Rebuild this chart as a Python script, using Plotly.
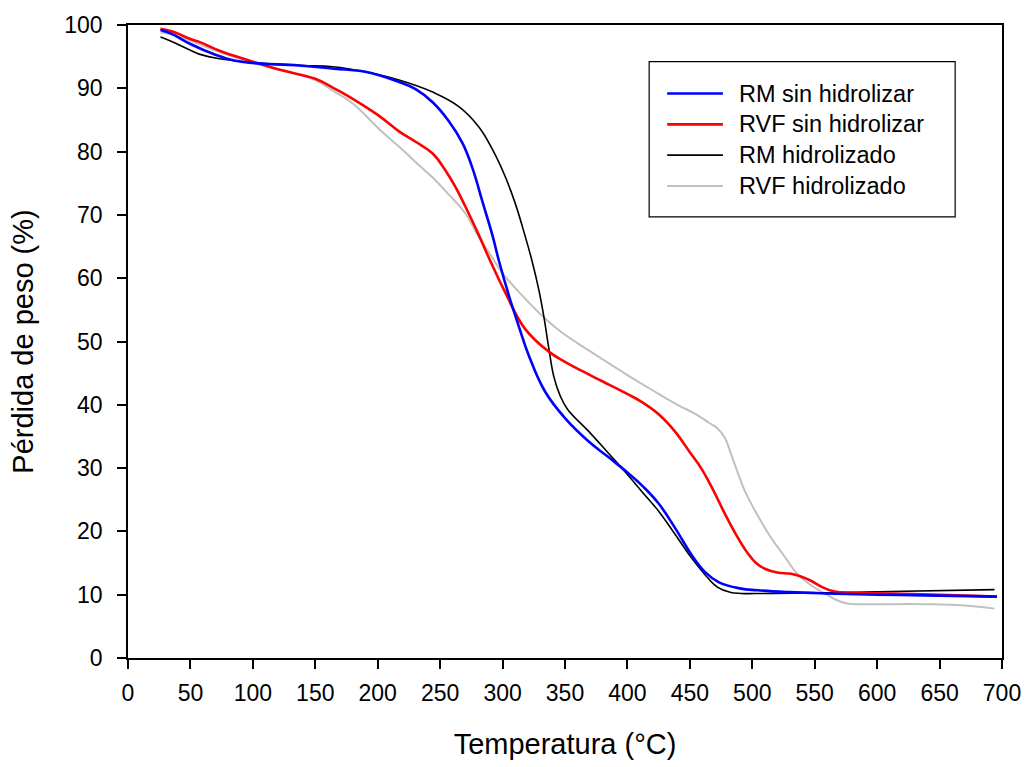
import plotly.graph_objects as go

# Thermogravimetric curves: temperature (°C) vs remaining weight (%)
rm_sin_T = [26, 35, 50, 70, 85, 100, 137, 165, 190, 217, 230, 244, 257, 268, 276, 284, 292, 297,
            305, 313, 321, 334, 350, 369, 385, 400, 413, 425, 438, 451, 462, 473, 490, 504, 530, 558,
            600, 638, 696]
rm_sin_w = [99.2, 98.6, 97.0, 95.3, 94.4, 94.0, 93.6, 93.1, 92.6, 91.0, 89.9, 87.8, 84.8, 81.3, 77.3,
            72.0, 66.7, 62.8, 57.3, 52.4, 47.8, 42.1, 37.9, 34.2, 31.7, 29.3, 27.0, 24.4, 20.6, 16.4,
            13.6, 12.0, 11.0, 10.7, 10.4, 10.2, 10.0, 9.9, 9.7]

rvf_sin_T = [26, 35, 50, 57.5, 75, 97, 124, 150, 165, 177, 200, 217, 230, 244, 254, 262, 270, 281,
             290, 302, 318, 337, 350, 369, 379, 401, 411, 425, 438, 450, 459, 468, 478, 487, 496.5,
             503, 510, 520, 531, 540, 547, 556, 566, 580, 611, 650, 696]
rvf_sin_w = [99.4, 99.0, 97.8, 97.3, 95.8, 94.4, 92.8, 91.5, 90.0, 88.7, 85.8, 83.2, 81.6, 79.7, 77.1,
             74.5, 71.4, 66.8, 62.8, 57.8, 52.0, 48.4, 46.8, 44.8, 43.8, 41.6, 40.5, 38.5, 35.8, 32.5,
             30.0, 26.8, 22.8, 19.5, 16.5, 15.0, 14.1, 13.5, 13.3, 12.8, 12.2, 11.2, 10.5, 10.3, 10.2,
             10.0, 9.7]

rm_hid_T = [26, 35, 50, 57, 70, 84, 111, 140, 164, 190, 217, 244, 265, 281, 292, 302, 310, 318,
            323.5, 329, 333, 337, 341, 346, 352, 369, 385, 400, 412, 425, 438, 451, 462, 472, 482,
            491, 510, 558, 611, 694]
rm_hid_w = [98.1, 97.4, 96.0, 95.4, 94.8, 94.4, 93.9, 93.6, 93.4, 92.6, 91.3, 89.4, 87.1, 83.9, 80.3,
            76.1, 71.9, 66.7, 62.8, 58.2, 54.0, 49.0, 44.5, 41.5, 39.3, 35.8, 32.3, 29.0, 26.2, 23.2,
            19.6, 15.9, 13.2, 11.2, 10.4, 10.2, 10.2, 10.3, 10.5, 10.8]

rvf_hid_T = [26, 35, 50, 75, 100, 125, 150, 165, 180, 203, 217, 230, 244, 257, 270, 281, 290, 300,
             316, 331, 347, 369, 380, 400, 420, 440, 455, 465, 472, 478, 483, 488, 494, 505, 515, 526,
             536, 547, 558, 567, 576, 590, 638, 670, 694]
rvf_hid_w = [98.8, 98.5, 97.5, 95.6, 94.0, 92.8, 91.3, 89.5, 87.6, 83.2, 80.8, 78.4, 75.9, 73.2, 70.3,
             66.5, 63.8, 60.8, 57.2, 54.2, 51.5, 48.6, 47.2, 44.7, 42.3, 40.0, 38.5, 37.2, 36.3, 34.8,
             32.2, 29.5, 26.4, 22.3, 19.0, 16.0, 13.3, 11.5, 10.2, 9.2, 8.6, 8.5, 8.5, 8.3, 7.8]

series = [
    ("RM sin hidrolizar", rm_sin_T, rm_sin_w, "#0000ff", 2.6),
    ("RVF sin hidrolizar", rvf_sin_T, rvf_sin_w, "#ff0000", 2.6),
    ("RM hidrolizado", rm_hid_T, rm_hid_w, "#000000", 1.6),
    ("RVF hidrolizado", rvf_hid_T, rvf_hid_w, "#c0c0c0", 2.0),
]

FONT = "Liberation Sans, Arial, sans-serif"

fig = go.Figure()
# Grey first so the coloured curves sit on top of it
for name, T, w, color, width in [series[3], series[2], series[1], series[0]]:
    fig.add_trace(go.Scatter(
        x=T, y=w, mode="lines", name=name, showlegend=False,
        line=dict(color=color, width=width, shape="spline", smoothing=1.2),
    ))

# Legend box drawn with shapes and text
shapes = [dict(type="rect", xref="paper", yref="paper", x0=0.5963, x1=0.9464, y0=0.697, y1=0.942,
               line=dict(color="black", width=1.2), fillcolor="white", layer="above")]
annotations = []
rows = [0.8917, 0.843, 0.7944, 0.7457]
for (name, T, w, color, width), yy in zip(series, rows):
    shapes.append(dict(type="line", xref="paper", yref="paper", x0=0.6169, x1=0.6807, y0=yy, y1=yy,
                       line=dict(color=color, width=width), layer="above"))
    annotations.append(dict(xref="paper", yref="paper", x=0.6967, y=yy, text=name, showarrow=False,
                            xanchor="left", yanchor="middle",
                            font=dict(family=FONT, size=23.5, color="black")))

axis_common = dict(ticks="outside", ticklen=9, tickwidth=1.5, tickcolor="black", showline=True,
                   linecolor="black", linewidth=1.5, mirror=True, showgrid=False, zeroline=False,
                   tickfont=dict(size=23))

fig.update_layout(
    width=1033, height=767,
    margin=dict(l=128, r=28, t=21, b=109),
    paper_bgcolor="white", plot_bgcolor="white",
    font=dict(family=FONT, size=23, color="black"),
    shapes=shapes, annotations=annotations,
    xaxis=dict(range=[0, 700], tickmode="linear", tick0=0, dtick=50, ticklabelstandoff=5,
               title=dict(text="Temperatura (°C)", font=dict(size=29), standoff=28), **axis_common),
    yaxis=dict(range=[0, 100], tickmode="linear", tick0=0, dtick=10, ticklabelstandoff=10,
               title=dict(text="Pérdida de peso (%)", font=dict(size=29), standoff=22), **axis_common),
)

fig.write_html("out.html")
